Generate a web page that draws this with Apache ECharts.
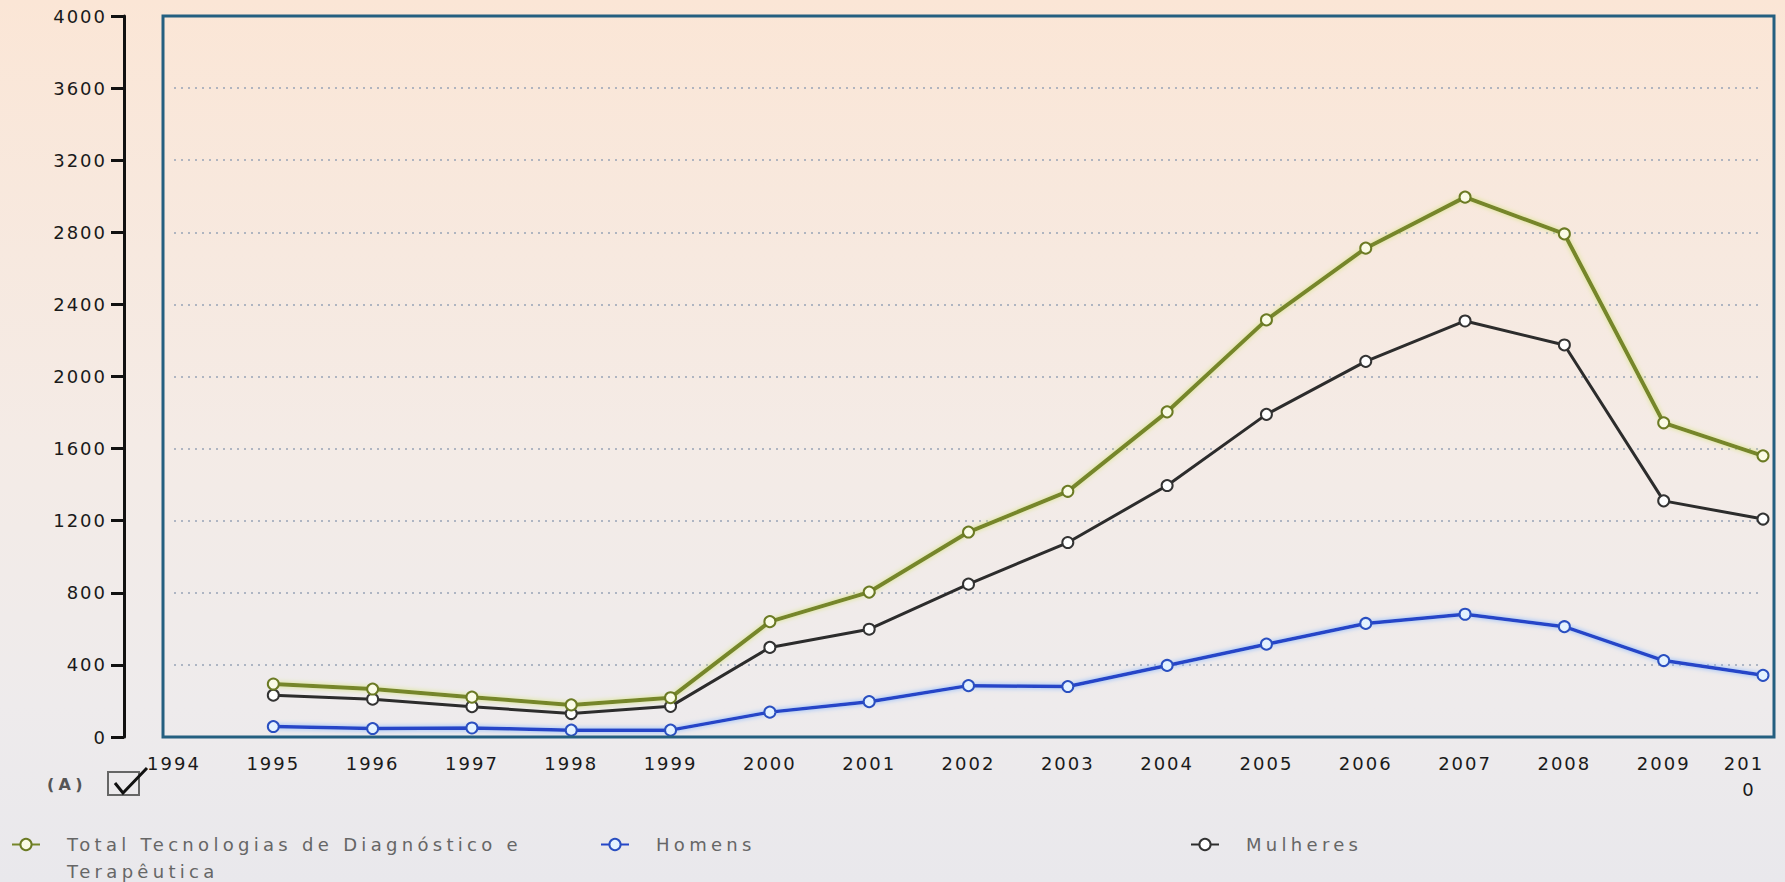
<!DOCTYPE html>
<html lang="pt">
<head>
    <meta charset="UTF-8">
    <title>Tecnologias de Diagnóstico e Terapêutica</title>
    <script src="https://cdn.jsdelivr.net/npm/echarts@6/dist/echarts.min.js"></script>
    <style type="text/css">
        * {
            margin: 0;
            padding: 0;
        }

        html, body {
            height: 100%;
        }
    </style>
</head>
<body>
<div id="main" style="width: 1785px;height:882px;"></div>

<script type="text/javascript">
    // dados
    var anos = [1995, 1996, 1997, 1998, 1999, 2000, 2001, 2002, 2003, 2004, 2005, 2006, 2007, 2008, 2009, 2010];
    var total = [294, 266, 221, 178, 218, 640, 804, 1137, 1363, 1804, 2314, 2712, 2995, 2791, 1743, 1560];
    var homens = [58, 47, 50, 38, 38, 138, 196, 285, 280, 397, 515, 630, 681, 612, 424, 342];
    var mulheres = [232, 210, 168, 130, 170, 497, 598, 848, 1079, 1395, 1790, 2084, 2308, 2175, 1310, 1209];
    var yTicks = [0, 400, 800, 1200, 1600, 2000, 2400, 2800, 3200, 3600, 4000];

    var nomeTotal = 'Total Tecnologias de Diagnóstico e Terapêutica';
    var font = 'DejaVu Sans';

    function pares(vals) {
        return anos.map(function (a, i) {
            return [a, vals[i]];
        });
    }

    var myChart = echarts.init(document.getElementById('main'), null, {renderer: 'svg'});

    var legendText = {
        fontFamily: font,
        fontSize: 18,
        color: '#666',
        lineHeight: 27,
        padding: [0, 0, 0, 22]
    };

    var option = {
        animation: false,
        backgroundColor: new echarts.graphic.LinearGradient(0, 0, 0, 1, [
            {offset: 0, color: '#fbe6d6'},
            {offset: 0.5, color: '#f4ebe6'},
            {offset: 0.8, color: '#eeebec'},
            {offset: 1, color: '#e9e8ec'}
        ]),
        grid: {
            left: 174,
            right: 22,
            top: 16,
            bottom: 145,
            outerBoundsMode: 'none'
        },
        xAxis: {
            type: 'value',
            min: 1994,
            max: 2010,
            interval: 1,
            axisLine: {show: false},
            axisTick: {show: false},
            splitLine: {show: false},
            axisLabel: {
                margin: 13,
                fontFamily: font,
                fontSize: 18,
                lineHeight: 26,
                color: '#1a1a1a',
                formatter: function (v) {
                    return v === 2010 ? '{a|201}\n{b|0}' : String(v);
                },
                rich: {
                    a: {fontFamily: font, fontSize: 18, color: '#1a1a1a', padding: [0, 38, 0, 0]},
                    b: {fontFamily: font, fontSize: 18, color: '#1a1a1a', padding: [0, 28, 0, 0]}
                }
            }
        },
        yAxis: {
            type: 'value',
            min: yTicks[0],
            max: yTicks[yTicks.length - 1],
            interval: 400,
            offset: 50,
            axisLine: {show: true, lineStyle: {color: '#111', width: 3}},
            axisTick: {show: true, length: 13, lineStyle: {color: '#111', width: 3}},
            axisLabel: {
                margin: 17,
                fontFamily: font,
                fontSize: 18,
                color: '#1a1a1a',
                formatter: function (v) {
                    return String(v);
                }
            },
            splitLine: {
                show: true,
                lineStyle: {color: '#98a4b6', width: 1.5, type: [2, 5]}
            }
        },
        legend: [
            {
                data: [nomeTotal],
                left: 11,
                top: 804,
                padding: 0,
                itemWidth: 28,
                itemHeight: 14,
                formatter: function () {
                    return ' \nTotal Tecnologias de Diagnóstico e\nTerapêutica';
                },
                textStyle: legendText
            },
            {
                data: ['Homens'],
                left: 600,
                top: 831,
                padding: 0,
                itemWidth: 28,
                itemHeight: 14,
                textStyle: legendText
            },
            {
                data: ['Mulheres'],
                left: 1190,
                top: 831,
                padding: 0,
                itemWidth: 28,
                itemHeight: 14,
                textStyle: legendText
            }
        ],
        graphic: [
            {
                type: 'rect',
                shape: {x: 163, y: 16, width: 1611, height: 721},
                style: {fill: 'none', stroke: '#245f80', lineWidth: 3},
                z: 5
            },
            {
                type: 'text',
                left: 47,
                top: 776,
                style: {text: '(A)', font: 'bold 16px "DejaVu Sans"', fill: '#555'}
            },
            {
                type: 'rect',
                shape: {x: 108, y: 772, width: 31, height: 23},
                style: {fill: 'none', stroke: '#666', lineWidth: 2}
            },
            {
                type: 'polyline',
                shape: {points: [[115, 783], [123, 793], [147, 768]]},
                style: {fill: 'none', stroke: '#111', lineWidth: 3}
            }
        ],
        series: [
            {
                name: nomeTotal,
                type: 'line',
                data: pares(total),
                symbol: 'circle',
                symbolSize: 11,
                z: 3,
                lineStyle: {color: '#76862a', width: 4, shadowColor: 'rgba(215,228,130,1)', shadowBlur: 5},
                itemStyle: {color: '#fafbe6', borderColor: '#6b7a24', borderWidth: 2}
            },
            {
                name: 'Homens',
                type: 'line',
                data: pares(homens),
                symbol: 'circle',
                symbolSize: 11,
                z: 2,
                lineStyle: {color: '#2545c8', width: 3.5, shadowColor: 'rgba(130,180,255,1)', shadowBlur: 5},
                itemStyle: {color: '#e4f2ff', borderColor: '#2a4fc0', borderWidth: 2}
            },
            {
                name: 'Mulheres',
                type: 'line',
                data: pares(mulheres),
                symbol: 'circle',
                symbolSize: 11,
                z: 2,
                lineStyle: {color: '#2c2c2c', width: 3},
                itemStyle: {color: '#ffffff', borderColor: '#333', borderWidth: 2}
            }
        ]
    };

    myChart.setOption(option);

    // o texto original tem espaçamento entre letras, zrender não tem essa opção
    function espacar() {
        var texts = document.querySelectorAll('#main text');
        texts.forEach(function (t) {
            t.style.letterSpacing = /[a-z(]/i.test(t.textContent) ? '4.3px' : '2px';
        });
    }

    espacar();
    myChart.on('finished', espacar);
</script>
</body>
</html>
